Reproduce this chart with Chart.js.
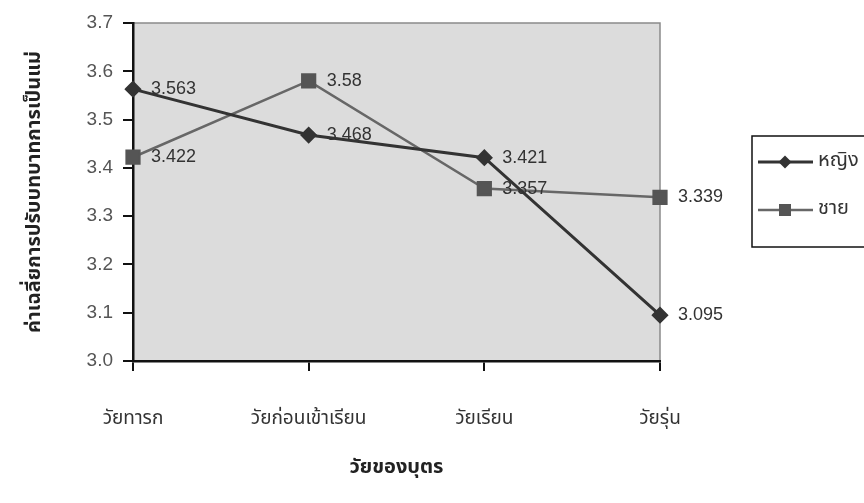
<!DOCTYPE html>
<html>
<head>
<meta charset="utf-8">
<script src="https://cdn.jsdelivr.net/npm/chart.js@4.4.1/dist/chart.umd.min.js"></script>
<style>
html,body{margin:0;padding:0;background:#fff;}
#wrap{width:864px;height:503px;position:relative;}
</style>
</head>
<body>
<div id="wrap"><canvas id="c" width="864" height="503"></canvas></div>
<script>
const categories = ["วัยทารก", "วัยก่อนเข้าเรียน", "วัยเรียน", "วัยรุ่น"];
const femaleValues = [3.563, 3.468, 3.421, 3.095];
const maleValues = [3.422, 3.58, 3.357, 3.339];
const seriesNames = ["หญิง", "ชาย"];
const yMin = 3.0, yMax = 3.7, yStep = 0.1;
const yTitle = "ค่าเฉลี่ยการปรับบทบาทการเป็นแม่";
const xTitle = "วัยของบุตร";

const thaiFont = '"Noto Sans Thai","Loma","Garuda","Tlwg Typo","Norasi","Noto Sans","DejaVu Sans",sans-serif';
const latinFont = '"Liberation Sans",Arial,sans-serif';

const bgPlugin = {
  id: 'bgPlugin',
  beforeDraw(chart) {
    const {ctx, chartArea: a} = chart;
    ctx.save();
    ctx.fillStyle = '#dcdcdc';
    ctx.fillRect(a.left, a.top, a.right - a.left, a.bottom - a.top);
    ctx.strokeStyle = '#8a8a8a';
    ctx.lineWidth = 1.5;
    ctx.beginPath();
    ctx.moveTo(a.left, a.top);
    ctx.lineTo(a.right, a.top);
    ctx.lineTo(a.right, a.bottom);
    ctx.stroke();
    ctx.restore();
  }
};

const labelPlugin = {
  id: 'labelPlugin',
  afterDatasetsDraw(chart) {
    const ctx = chart.ctx;
    ctx.save();
    ctx.font = '18px ' + latinFont;
    ctx.fillStyle = '#333';
    ctx.textAlign = 'left';
    ctx.textBaseline = 'middle';
    chart.data.datasets.forEach((ds, i) => {
      const meta = chart.getDatasetMeta(i);
      meta.data.forEach((pt, j) => {
        ctx.fillText(String(ds.data[j]), pt.x + 18, pt.y);
      });
    });
    ctx.restore();
  }
};

const legendPlugin = {
  id: 'legendPlugin',
  afterDraw(chart) {
    const ctx = chart.ctx;
    const bx = 752, by = 136, bw = 140, bh = 111;
    ctx.save();
    ctx.fillStyle = '#fff';
    ctx.fillRect(bx, by, bw, bh);
    ctx.strokeStyle = '#111';
    ctx.lineWidth = 1.5;
    ctx.strokeRect(bx, by, bw, bh);
    chart.data.datasets.forEach((ds, i) => {
      const y = by + 26 + i * 48;
      ctx.strokeStyle = ds.borderColor;
      ctx.lineWidth = ds.borderWidth;
      ctx.beginPath();
      ctx.moveTo(758, y);
      ctx.lineTo(813, y);
      ctx.stroke();
      ctx.fillStyle = ds.pointBackgroundColor;
      ctx.beginPath();
      if (ds.pointStyle === 'rectRot') {
        const r = 6.5;
        ctx.moveTo(785, y - r); ctx.lineTo(785 + r, y); ctx.lineTo(785, y + r); ctx.lineTo(785 - r, y);
        ctx.closePath(); ctx.fill();
      } else {
        ctx.fillRect(785 - 6, y - 6, 12, 12);
      }
      ctx.fillStyle = '#333';
      ctx.font = '20px ' + thaiFont;
      ctx.textAlign = 'left';
      ctx.textBaseline = 'middle';
      ctx.fillText(ds.label, 818, y);
    });
    ctx.restore();
  }
};

new Chart(document.getElementById('c'), {
  type: 'line',
  data: {
    labels: categories,
    datasets: [
      {
        label: seriesNames[0],
        data: femaleValues,
        borderColor: '#333333',
        backgroundColor: '#333333',
        pointBackgroundColor: '#333333',
        pointBorderColor: '#333333',
        borderWidth: 3,
        pointStyle: 'rectRot',
        pointRadius: 6.5,
        tension: 0
      },
      {
        label: seriesNames[1],
        data: maleValues,
        borderColor: '#676767',
        backgroundColor: '#555555',
        pointBackgroundColor: '#555555',
        pointBorderColor: '#555555',
        borderWidth: 2.5,
        pointStyle: 'rect',
        pointRadius: 9,
        tension: 0
      }
    ]
  },
  options: {
    responsive: false,
    animation: false,
    events: [],
    layout: { padding: { left: 0, top: 23, right: 204, bottom: 22 } },
    plugins: {
      legend: { display: false },
      tooltip: { enabled: false }
    },
    scales: {
      x: {
        offset: false,
        grid: { drawOnChartArea: false, drawTicks: true, tickLength: 10, color: '#111', lineWidth: 2 },
        border: { display: true, color: '#111', width: 2.5 },
        ticks: { font: { family: thaiFont, size: 19 }, color: '#333', padding: 38, maxRotation: 0 },
        title: { display: true, text: xTitle, font: { family: thaiFont, size: 20, weight: 'bold' }, color: '#222', padding: 0 },
        afterFit(scale) { scale.height = 120; }
      },
      y: {
        min: yMin, max: yMax,
        grid: { drawOnChartArea: false, drawTicks: true, tickLength: 10, color: '#111', lineWidth: 2 },
        border: { display: true, color: '#111', width: 2.5 },
        ticks: { stepSize: yStep, font: { family: latinFont, size: 19 }, color: '#555', padding: 10,
          callback: (v) => Number(v).toFixed(1) },
        title: { display: true, text: yTitle, font: { family: thaiFont, size: 20, weight: 'bold' }, color: '#222', padding: { top: 24, bottom: 0 } },
        afterFit(scale) { scale.width = 133; }
      }
    }
  },
  plugins: [bgPlugin, labelPlugin, legendPlugin]
});
</script>
</body>
</html>
